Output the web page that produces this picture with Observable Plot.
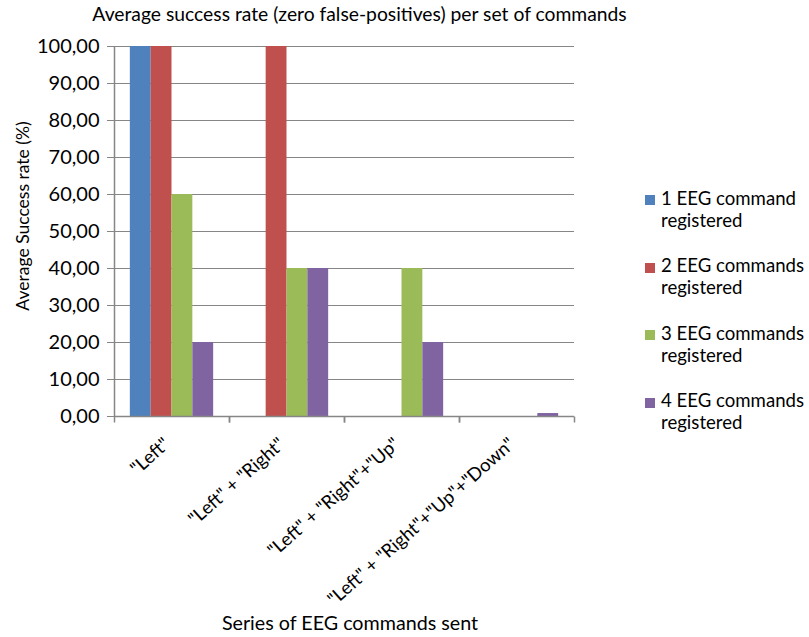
<!DOCTYPE html>
<html>
<head>
<meta charset="utf-8">
<script src="https://cdn.jsdelivr.net/npm/d3@7"></script>
<script src="https://cdn.jsdelivr.net/npm/@observablehq/plot@0.6"></script>
<style>
  body { margin: 0; background: #fff; font-family: Lato, "Open Sans", sans-serif; }
  #chart { position: relative; width: 809px; height: 637px; overflow: hidden; background: #fff; }
  #chart svg { position: absolute; left: 0; top: 0; }
  .txt { position: absolute; white-space: nowrap; color: #000; line-height: 1.2; }
  .swatch { position: absolute; width: 10px; height: 10px; }
</style>
</head>
<body>
<div id="chart"></div>
<script>
// Sets of commands sent (x categories)
const categories = [
  '"Left"',
  '"Left" + "Right"',
  '"Left" + "Right"+"Up"',
  '"Left" + "Right"+"Up"+"Down"'
];

// Series: how many EEG commands were registered
const seriesNames = [
  "1 EEG command registered",
  "2 EEG commands registered",
  "3 EEG commands registered",
  "4 EEG commands registered"
];
const seriesColors = ["#4F81BD", "#C0504D", "#9BBB59", "#8064A2"];

// Average success rate (%) per category, one array per series
const oneCommand    = [100,   0,  0, 0];
const twoCommands   = [100, 100,  0, 0];
const threeCommands = [ 60,  40, 40, 0];
const fourCommands  = [ 20,  40, 20, 0.8];

const yTicks = [0, 10, 20, 30, 40, 50, 60, 70, 80, 90, 100];

const title = "Average success rate (zero false-positives) per set of commands";
const yLabel = "Average Success rate (%)";
const xLabel = "Series of EEG commands sent";

// Long-format table for the bar mark
const seriesValues = [oneCommand, twoCommands, threeCommands, fourCommands];
const rows = [];
categories.forEach((category, i) => {
  seriesNames.forEach((series, j) => {
    rows.push({category, series, value: seriesValues[j][i]});
  });
});

const commaFormat = d3.formatLocale({decimal: ",", thousands: ".", grouping: [3], currency: ["", ""]}).format(".2f");

const W = 809, H = 637;
const mTop = 46, mBottom = 221, mLeft = 114, mRight = 235;
const innerH = H - mTop - mBottom;
const gridColor = "#868686";

const plot = Plot.plot({
  width: W,
  height: H,
  marginTop: mTop,
  marginBottom: mBottom,
  marginLeft: mLeft,
  marginRight: mRight,
  style: {fontFamily: "Lato, 'Open Sans', sans-serif", fontSize: "18px", color: "#000", background: "#fff", overflow: "visible"},
  fx: {domain: categories, padding: 0, round: false, label: null, axis: null},
  x: {domain: seriesNames, paddingInner: 0, paddingOuter: 0.76, round: false, axis: null, label: null},
  y: {domain: [0, 100], axis: null, label: null},
  color: {domain: seriesNames, range: seriesColors},
  marks: [
    Plot.gridY(yTicks, {stroke: gridColor, strokeOpacity: 1, strokeWidth: 1}),
    Plot.barY(rows, {fx: "category", x: "series", y: "value", fill: "series"}),
    Plot.ruleY([0], {stroke: gridColor, strokeWidth: 1.5}),
    // vertical axis line on the left edge
    Plot.frame({anchor: "left", facetAnchor: "left", stroke: gridColor, strokeWidth: 1.5, strokeLinecap: "butt"}),
    // category boundary tick marks below the baseline
    Plot.frame({anchor: "left", insetTop: innerH, insetBottom: -6, stroke: gridColor, strokeWidth: 1.5, strokeLinecap: "butt"}),
    Plot.frame({anchor: "right", insetTop: innerH, insetBottom: -6, stroke: gridColor, strokeWidth: 1.5, strokeLinecap: "butt"}),
    Plot.axisY({
      ticks: yTicks,
      tickSize: 7,
      tickPadding: 8,
      tickFormat: commaFormat,
      stroke: gridColor,
      fill: "#000",
      fontSize: 20,
      label: null
    }),
    Plot.axisFx({
      anchor: "bottom",
      tickSize: 0,
      tickRotate: -41.5,
      tickPadding: 25,
      dx: -5,
      fill: "#000",
      fontSize: 18.5,
      label: null
    })
  ]
});

const chart = document.getElementById("chart");
chart.appendChild(plot);

function addText(text, left, top, size, extra = {}) {
  const el = document.createElement("div");
  el.className = "txt";
  el.textContent = text;
  el.style.left = left + "px";
  el.style.top = top + "px";
  el.style.fontSize = size + "px";
  Object.assign(el.style, extra);
  chart.appendChild(el);
  return el;
}

// Title
addText(title, 359.5, 2, 19.3, {transform: "translateX(-50%)"});
// Axis titles
addText(yLabel, 22, 216, 17.5, {transform: "translate(-50%, -50%) rotate(-90deg)"});
addText(xLabel, 350, 611, 19.7, {transform: "translateX(-50%)"});

// Legend
seriesNames.forEach((name, i) => {
  const base = 205 + 67.5 * i;
  const sw = document.createElement("div");
  sw.className = "swatch";
  sw.style.left = "645px";
  sw.style.top = (base - 10) + "px";
  sw.style.background = seriesColors[i];
  chart.appendChild(sw);
  const parts = name.split(" registered");
  const el = addText("", 661, base - 18.2, 18.6, {lineHeight: "22px"});
  el.appendChild(document.createTextNode(parts[0]));
  el.appendChild(document.createElement("br"));
  el.appendChild(document.createTextNode("registered"));
});
</script>
</body>
</html>
